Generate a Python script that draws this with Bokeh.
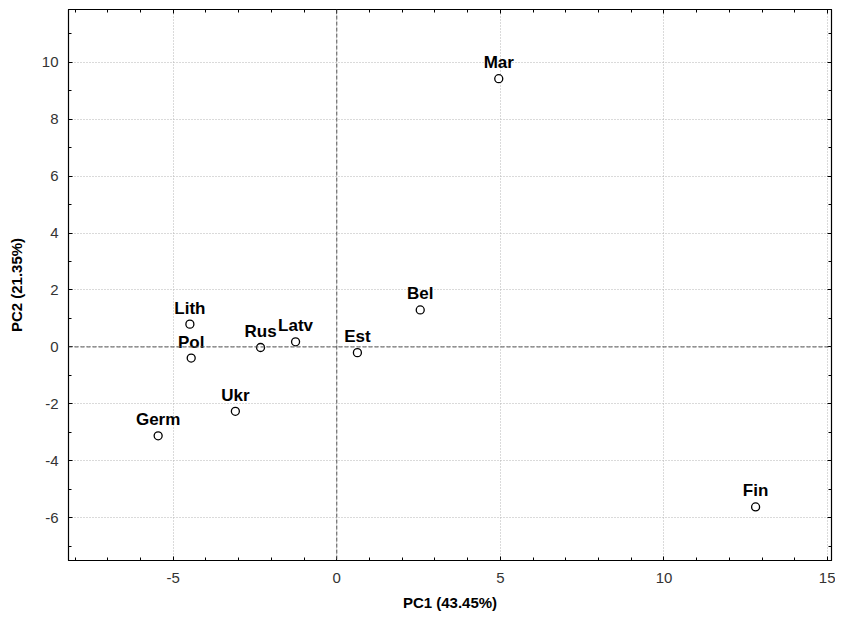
from bokeh.plotting import figure
from bokeh.models import (ColumnDataSource, LinearAxis, SingleIntervalTicker, Span, Range1d,
                          Grid, PrintfTickFormatter, CustomLabelingPolicy)
from bokeh.core.properties import value
from bokeh.embed import file_html
from bokeh.resources import INLINE

# Data
names = ["Mar", "Bel", "Lith", "Pol", "Rus", "Latv", "Est", "Ukr", "Germ", "Fin"]
pc1 = [4.95, 2.55, -4.49, -4.45, -2.33, -1.26, 0.63, -3.10, -5.46, 12.8]
pc2 = [9.42, 1.30, 0.80, -0.39, -0.02, 0.18, -0.20, -2.26, -3.12, -5.62]
x_label = "PC1 (43.45%)"
y_label = "PC2 (21.35%)"

src = ColumnDataSource(dict(x=pc1, y=pc2, name=names))

FONT = "Liberation Sans"

p = figure(width=835, height=613, output_backend="svg", toolbar_location=None,
           x_range=Range1d(-8.2, 15.12), y_range=Range1d(-7.5, 11.85),
           x_axis_location=None, y_axis_location=None,
           min_border_left=68, min_border_right=0, min_border_top=9, min_border_bottom=53)
p.outline_line_color = "black"
p.outline_line_width = 1.2
p.background_fill_color = "white"
p.border_fill_color = "white"
p.grid.grid_line_color = None
p.grid.visible = False

hide_all = CustomLabelingPolicy(code="""
    const r = indices.clone()
    for (const i of indices) { r.unset(i) }
    return r
""")

def make_axis(interval, minor, show_labels, label=None):
    ax = LinearAxis(ticker=SingleIntervalTicker(interval=interval, num_minor_ticks=minor),
                    formatter=PrintfTickFormatter(format="%d"))
    ax.axis_line_color = "black"
    ax.major_tick_in = 4
    ax.major_tick_out = 0
    ax.minor_tick_in = 3
    ax.minor_tick_out = 0
    ax.major_tick_line_color = "black"
    ax.minor_tick_line_color = "black"
    if show_labels:
        ax.major_label_text_font = FONT
        ax.major_label_text_font_size = "15px"
        ax.major_label_text_color = "#333333"
        ax.major_label_standoff = 12
        ax.axis_label = label
        ax.axis_label_text_font = FONT
        ax.axis_label_text_font_size = "15px"
        ax.axis_label_text_font_style = "bold"
        ax.axis_label_text_color = "black"
        ax.axis_label_standoff = 8
    else:
        ax.major_label_policy = hide_all
        ax.major_label_text_font_size = "1px"
        ax.major_label_standoff = 0
        ax.axis_label = None
    return ax

xb = make_axis(5, 5, True, x_label)
yl = make_axis(2, 2, True, y_label)
yl.major_label_standoff = 10
yl.axis_label_standoff = 14
p.add_layout(xb, "below")
p.add_layout(yl, "left")
p.add_layout(make_axis(5, 5, False), "above")
p.add_layout(make_axis(2, 2, False), "right")

gx = Grid(dimension=0, ticker=SingleIntervalTicker(interval=5), grid_line_color="#b5b5b5",
          grid_line_dash="1 2", grid_line_width=1)
gy = Grid(dimension=1, ticker=SingleIntervalTicker(interval=2), grid_line_color="#b5b5b5",
          grid_line_dash="1 2", grid_line_width=1)
p.add_layout(gx)
p.add_layout(gy)

p.add_layout(Span(location=0, dimension="height", line_color="#555555", line_dash="4 2", line_width=1))
p.add_layout(Span(location=0, dimension="width", line_color="#555555", line_dash="4 2", line_width=1))

p.scatter("x", "y", source=src, marker="circle", size=8, fill_color="white",
          line_color="black", line_width=1.3)
p.text("x", "y", text="name", source=src, text_font=value(FONT), text_font_size="17px",
       text_font_style="bold", text_color="black", text_align="center",
       text_baseline="alphabetic", y_offset=-16)

open("out.html", "w").write(file_html(p, INLINE))
